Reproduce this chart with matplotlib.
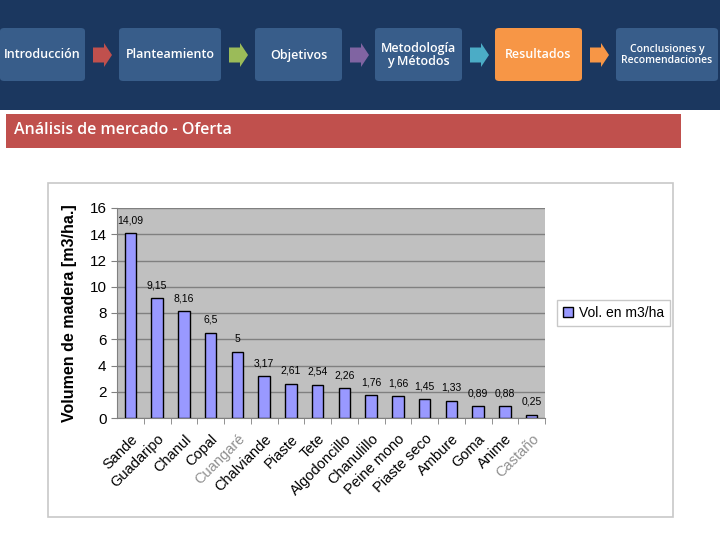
import matplotlib.pyplot as plt
from matplotlib.patches import FancyBboxPatch, Rectangle, FancyArrow

species = ["Sande", "Guadaripo", "Chanul", "Copal", "Cuangaré", "Chalviande",
           "Piaste", "Tete", "Algodoncillo", "Chanulillo", "Peine mono",
           "Piaste seco", "Ambure", "Goma", "Anime", "Castaño"]
volumes = [14.09, 9.15, 8.16, 6.5, 5, 3.17, 2.61, 2.54, 2.26, 1.76, 1.66,
           1.45, 1.33, 0.89, 0.88, 0.25]
grey_labels = ["Cuangaré", "Castaño"]

nav_labels = ["Introducción", "Planteamiento", "Objetivos",
              "Metodología\ny Métodos", "Resultados",
              "Conclusiones y\nRecomendaciones"]
nav_x = [(0, 85), (119, 221), (255, 342), (375, 462), (495, 582), (616, 718)]
arrow_colors = ["#c0504d", "#9bbb59", "#8064a2", "#4bacc6", "#f79646"]

W, H = 720, 540
fig = plt.figure(figsize=(7.2, 5.4), dpi=100)
fig.patch.set_facecolor("white")


def fx(x):
    return x / W


def fy(y):
    return 1 - y / H


# top banner
fig.patches.append(Rectangle((0, fy(110)), 1, 110 / H, transform=fig.transFigure,
                             facecolor="#1b375f", edgecolor="none", zorder=-3))
for i, (lab, (x0, x1)) in enumerate(zip(nav_labels, nav_x)):
    col = "#f79646" if lab == "Resultados" else "#385d8a"
    fig.patches.append(FancyBboxPatch((fx(x0), fy(81)), fx(x1 - x0), 53 / H,
                                      boxstyle="round,pad=0,rounding_size=0.006",
                                      transform=fig.transFigure, facecolor=col,
                                      edgecolor="none", zorder=-2))
    fs = 7.5 if "Conclusiones" in lab else 9
    fig.text(fx((x0 + x1) / 2), fy(55), lab, color="white", ha="center",
             va="center", fontsize=fs, family="Open Sans", fontweight="semibold",
             linespacing=1.0, zorder=2)
    if i < len(arrow_colors):
        ax0 = x1 + 8
        fig.patches.append(FancyArrow(fx(ax0), fy(55), fx(19), 0,
                                      width=15 / H, head_width=24 / H,
                                      head_length=fx(8), length_includes_head=True,
                                      transform=fig.transFigure,
                                      facecolor=arrow_colors[i], edgecolor="none",
                                      zorder=-2))

# red section bar
fig.patches.append(Rectangle((fx(6), fy(148)), fx(675), 34 / H,
                             transform=fig.transFigure, facecolor="#c0504d",
                             edgecolor="none", zorder=-3))
fig.text(fx(14), fy(130), "Análisis de mercado - Oferta", color="white",
         fontsize=11.5, va="center", family="Open Sans", fontweight="semibold")

# chart frame
fig.patches.append(Rectangle((fx(48), fy(517)), fx(625), 334 / H,
                             transform=fig.transFigure, facecolor="white",
                             edgecolor="#c8c8c8", linewidth=1.2, zorder=-3))

ax = fig.add_axes([fx(117), fy(418), fx(428), 210 / H])
ax.set_zorder(2)
ax.set_facecolor("#c0c0c0")
x = range(len(species))
bars = ax.bar(x, volumes, width=0.43, color="#9999ff", edgecolor="black",
              linewidth=1.0, label="Vol. en m3/ha", zorder=3)
for xi, v in zip(x, volumes):
    ax.text(xi, v + 0.6, f"{v:g}".replace(".", ","), ha="center", va="bottom",
            fontsize=7.5, family="Liberation Sans")
ax.set_xlim(-0.5, len(species) - 0.5)
ax.set_ylim(0, 16)
ax.set_yticks(range(0, 17, 2))
ax.yaxis.grid(True, color="#808080", linewidth=1.0, zorder=0)
ax.set_axisbelow(True)
for s in ["top", "right"]:
    ax.spines[s].set_visible(False)
ax.spines["left"].set_color("#808080")
ax.spines["bottom"].set_color("#808080")
ax.tick_params(axis="y", length=4, color="#808080", labelsize=11)
ax.tick_params(axis="x", length=0, labelsize=10.5, pad=10)
ax.set_xticks([i + 0.5 for i in x], minor=True)
ax.tick_params(axis="x", which="minor", length=4, color="#808080")
ax.set_xticks(list(x))
ax.set_xticklabels(species, rotation=45, ha="right", rotation_mode="anchor",
                   family="Liberation Sans")
for t in ax.get_xticklabels():
    if t.get_text() in grey_labels:
        t.set_color("#909090")
for t in ax.get_yticklabels():
    t.set_family("Liberation Sans")
ax.set_ylabel("Volumen de madera [m3/ha.]", fontsize=11.5, fontweight="bold",
              family="Liberation Sans", labelpad=9)

leg = ax.legend(loc="center left", bbox_to_anchor=((557 - 117) / 428, 0.50),
                borderaxespad=0, frameon=True, fancybox=False,
                edgecolor="#c8c8c8", framealpha=1,
                prop={"family": "Liberation Sans", "size": 10},
                handlelength=0.7, handleheight=0.7, handletextpad=0.4,
                borderpad=0.45)
leg.get_frame().set_linewidth(1.0)

fig.savefig("out.png", dpi=100)
